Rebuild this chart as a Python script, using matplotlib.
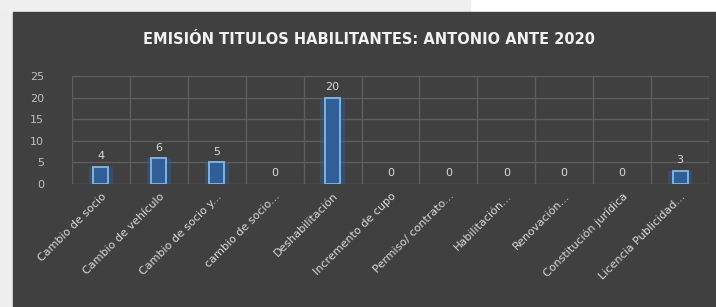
import numpy as np
import matplotlib.pyplot as plt
from matplotlib.patches import Rectangle

# data
categories = ["Cambio de socio", "Cambio de vehículo", "Cambio de socio y...",
              "cambio de socio...", "Deshabilitación", "Incremento de cupo",
              "Permiso/ contrato...", "Habilitación...", "Renovación...",
              "Constitución jurídica", "Licencia Publicidad..."]
values = [4, 6, 5, 0, 20, 0, 0, 0, 0, 0, 3]
yticks = [0, 5, 10, 15, 20, 25]
title = "EMISIÓN TITULOS HABILITANTES: ANTONIO ANTE 2020"

bg = "#404040"
txt = "#d9d9d9"
grid = "#5e5e5e"

fig = plt.figure(figsize=(7.16, 3.07), dpi=100)
fig.patch.set_facecolor("white")
# dark chart area, light strips on top/left like the screenshot
fig.add_artist(Rectangle((0, 0), 13/716, 1, transform=fig.transFigure,
                         color="#eeeeee", zorder=-3))
fig.add_artist(Rectangle((0, 1 - 12/307), 470/716, 12/307, transform=fig.transFigure,
                         color="#efefef", zorder=-3))
fig.add_artist(Rectangle((13/716, 0), 1, 1 - 12/307, transform=fig.transFigure,
                         color=bg, zorder=-2))

ax = fig.add_axes([72/716, 1 - 184/307, (709 - 72)/716, (184 - 76)/307])
ax.set_facecolor(bg)
ax.patch.set_alpha(0)

x = np.arange(len(categories))
# soft glow behind bars, then the bars
ax.bar(x, values, width=0.42, color="#2f5f96", alpha=0.45, zorder=2)
bars = ax.bar(x, values, width=0.26, facecolor="#2f5f96", edgecolor="#7ab3e8",
              linewidth=1.4, zorder=3)
for b, v in zip(bars, values):
    if v == 0:
        b.set_linewidth(0)

for xi, v in zip(x, values):
    ax.annotate(str(v), (xi, v), xytext=(0, 4), textcoords="offset points",
                ha="center", va="bottom", color=txt, fontsize=8)

ax.set_xlim(-0.5, len(categories) - 0.5)
ax.set_ylim(0, 25)
ax.set_yticks(yticks)
ax.set_yticklabels([str(t) for t in yticks], color="#bfbfbf", fontsize=8)
ax.set_xticks(x)
ax.set_xticklabels(categories, rotation=45, ha="right", va="top",
                   rotation_mode="anchor", color=txt, fontsize=8)
ax.set_xticks(np.arange(-0.5, len(categories)), minor=True)
ax.tick_params(axis="both", which="both", length=0)
ax.tick_params(axis="y", pad=20)
ax.tick_params(axis="x", pad=5)
ax.grid(axis="y", which="major", color=grid, linewidth=1.0, zorder=0)
ax.grid(axis="x", which="minor", color=grid, linewidth=1.0, zorder=0)
ax.set_axisbelow(True)
for s in ax.spines.values():
    s.set_visible(False)

fig.text(369/716, 1 - 39/307, title, ha="center", va="center",
         color="#f2f2f2", fontsize=10.5, fontweight="bold")

fig.savefig("out.png", dpi=100, facecolor=fig.get_facecolor())
